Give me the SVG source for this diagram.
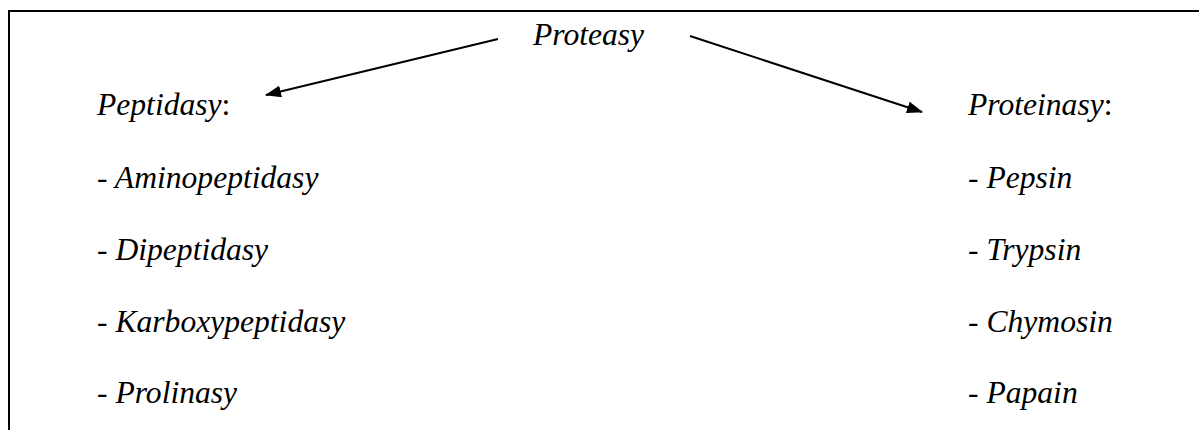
<svg xmlns="http://www.w3.org/2000/svg" width="1199" height="430" viewBox="0 0 1199 430">
<style>
text{font-family:"Liberation Serif","Times New Roman",serif;font-size:31.6px;font-style:italic;fill:#000}
.n{font-style:normal}
.c{stroke:#000;stroke-width:2;fill:none}
</style>
<defs>
<marker id="ah" viewBox="0 0 16 12" refX="15" refY="6" markerWidth="16" markerHeight="12" markerUnits="userSpaceOnUse" orient="auto">
<path d="M0,0 L16,6 L0,12 z" fill="#000"/>
</marker>
</defs>
<g id="frame">
<path class="c" d="M9,430 V11 H1199"/>
</g>
<g id="connectors">
<line class="c" x1="498" y1="39" x2="266" y2="95" marker-end="url(#ah)"/>
<line class="c" x1="690" y1="36" x2="922" y2="112" marker-end="url(#ah)"/>
</g>
<g id="proteasy"><text x="533" y="45">Proteasy</text></g>
<g id="peptidasy">
<text x="97" y="115">Peptidasy<tspan class="n">:</tspan></text>
<text x="97" y="188">- Aminopeptidasy</text>
<text x="97" y="260">- Dipeptidasy</text>
<text x="97" y="332">- Karboxypeptidasy</text>
<text x="97" y="403">- Prolinasy</text>
</g>
<g id="proteinasy">
<text x="968" y="115">Proteinasy<tspan class="n">:</tspan></text>
<text x="968" y="188">- Pepsin</text>
<text x="968" y="260">- Trypsin</text>
<text x="968" y="332">- Chymosin</text>
<text x="968" y="403">- Papain</text>
</g>
</svg>
